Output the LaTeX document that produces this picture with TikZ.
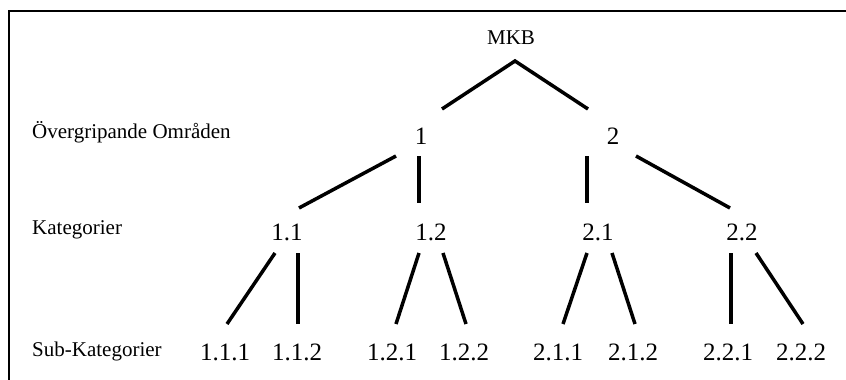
\documentclass[tikz,border=0pt]{standalone}
\usepackage{fontspec}
\setmainfont{Liberation Serif}
\begin{document}
\begin{tikzpicture}[x=1pt,y=-1pt,
  frameline/.style={line width=2.4pt},
  branch/.style={line width=3.5pt},
  levellabel/.style={anchor=base west,inner sep=0pt,font=\fontsize{21}{24}\selectfont},
  rootlabel/.style={anchor=base,inner sep=0pt,font=\fontsize{21}{24}\selectfont},
  numlabel/.style={anchor=base,inner sep=0pt,font=\fontsize{25}{28}\selectfont}]
\useasboundingbox (0,0) rectangle (846,380);

% open frame: top and left edges
\draw[frameline] (846,11) -- (9,11) -- (9,380);

% level captions
\node[levellabel] (capA) at (32,138) {Övergripande Områden};
\node[levellabel] (capB) at (32,234) {Kategorier};
\node[levellabel] (capC) at (32,356) {Sub-Kategorier};

% tree nodes
\node[rootlabel] (mkb) at (511,44) {MKB};
\node[numlabel] (n1) at (421,144) {1};
\node[numlabel] (n2) at (613,144) {2};
\node[numlabel] (n11) at (287,240) {1.1};
\node[numlabel] (n12) at (431,240) {1.2};
\node[numlabel] (n21) at (598,240) {2.1};
\node[numlabel] (n22) at (742,240) {2.2};
\node[numlabel] (n111) at (225,360) {1.1.1};
\node[numlabel] (n112) at (297,360) {1.1.2};
\node[numlabel] (n121) at (392,360) {1.2.1};
\node[numlabel] (n122) at (464,360) {1.2.2};
\node[numlabel] (n211) at (558,360) {2.1.1};
\node[numlabel] (n212) at (633,360) {2.1.2};
\node[numlabel] (n221) at (728,360) {2.2.1};
\node[numlabel] (n222) at (801,360) {2.2.2};

% branch end points
\coordinate (apex) at (515,61);
\coordinate (a1) at (442,109);
\coordinate (a2) at (588,109);

\coordinate (b1l) at (396,156);  \coordinate (b11) at (299,208);
\coordinate (b1r) at (419,156);  \coordinate (b12) at (419,203);
\coordinate (b2l) at (587,156);  \coordinate (b21) at (587,203);
\coordinate (b2r) at (636,156);  \coordinate (b22) at (730,208);

\coordinate (c11l) at (275,253); \coordinate (c111) at (227,324);
\coordinate (c11r) at (298,253); \coordinate (c112) at (298,324);
\coordinate (c12l) at (419,253); \coordinate (c121) at (396,324);
\coordinate (c12r) at (443,253); \coordinate (c122) at (466,324);
\coordinate (c21l) at (587,253); \coordinate (c211) at (563,324);
\coordinate (c21r) at (612,253); \coordinate (c212) at (635,324);
\coordinate (c22l) at (731,253); \coordinate (c221) at (731,324);
\coordinate (c22r) at (756,253); \coordinate (c222) at (803,324);

% branches
\draw[branch] (a1) -- (apex) -- (a2);
\foreach \s/\e in {b1l/b11,b1r/b12,b2l/b21,b2r/b22,
                   c11l/c111,c11r/c112,c12l/c121,c12r/c122,
                   c21l/c211,c21r/c212,c22l/c221,c22r/c222}
  \draw[branch] (\s) -- (\e);
\end{tikzpicture}
\end{document}
